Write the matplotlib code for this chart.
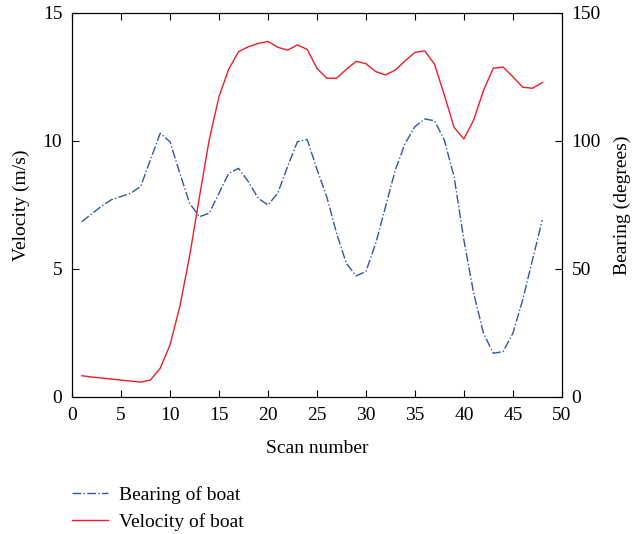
import matplotlib.pyplot as plt
import numpy as np

# ==========================
# DATA
# ==========================

scan = np.arange(1, 49)

velocity = [0.83, 0.78, 0.74, 0.70, 0.66, 0.62, 0.58, 0.66, 1.12, 2.03,
            3.53, 5.5, 7.8, 10.04, 11.73, 12.81, 13.49, 13.68, 13.81, 13.89,
            13.66, 13.55, 13.75, 13.58, 12.84, 12.45, 12.45, 12.8, 13.11, 13.02,
            12.71, 12.58, 12.77, 13.13, 13.46, 13.52, 13.0, 11.8, 10.53, 10.08,
            10.82, 11.97, 12.84, 12.89, 12.51, 12.10, 12.06, 12.28]

bearing = [68.5, 71.5, 74.5, 77.0, 78.3, 79.6, 82.2, 92.6, 103.0, 99.7,
           87.4, 75.7, 70.4, 71.8, 79.6, 87.4, 89.3, 84.1, 77.6, 75.0,
           79.6, 90.0, 99.7, 100.6, 89.0, 78.2, 64.0, 52.2, 47.3, 49.0,
           60.0, 74.3, 88.7, 99.0, 105.6, 108.6, 107.9, 100.4, 86.0, 61.3,
           40.5, 24.9, 17.1, 17.7, 24.9, 37.9, 53.5, 69.1]

# ==========================
# PLOT
# ==========================

plt.rcParams['font.family'] = ['Liberation Serif', 'DejaVu Serif']
plt.rcParams['font.size'] = 14

fig = plt.figure(figsize=(6.32, 5.34), dpi=100)
ax = fig.add_axes([0.114, 0.2566, 0.775, 0.7191])
ax2 = ax.twinx()

blue = '#3353a8'
red = '#ee1c25'

ln_b, = ax2.plot(scan, bearing, color=blue, linestyle='-.', lw=1.0,
                 label='Bearing of boat')
ln_v, = ax.plot(scan, velocity, color=red, linestyle='-', lw=1.0,
                label='Velocity of boat')

ax.set_xlim(0, 50)
ax.set_ylim(0, 15)
ax2.set_ylim(0, 150)
ax.set_xticks(np.arange(0, 51, 5))
ax.set_yticks([0, 5, 10, 15])
ax2.set_yticks([0, 50, 100, 150])

ax.tick_params(axis='x', direction='in', top=True, length=5, width=0.8, pad=7)
ax.tick_params(axis='y', direction='in', length=5, width=0.8, pad=7)
ax2.tick_params(direction='in', length=5, width=0.8, pad=7)

ax.set_xlabel('Scan number', labelpad=12)
ax.set_ylabel('Velocity (m/s)', labelpad=9)
ax2.set_ylabel('Bearing (degrees)', labelpad=9)

fig.legend(handles=[ln_b, ln_v], loc='upper left',
           bbox_to_anchor=(0.086, 0.123), frameon=False,
           handlelength=1.85, handletextpad=0.6, labelspacing=0.5)

plt.savefig('out.png', dpi=100)
